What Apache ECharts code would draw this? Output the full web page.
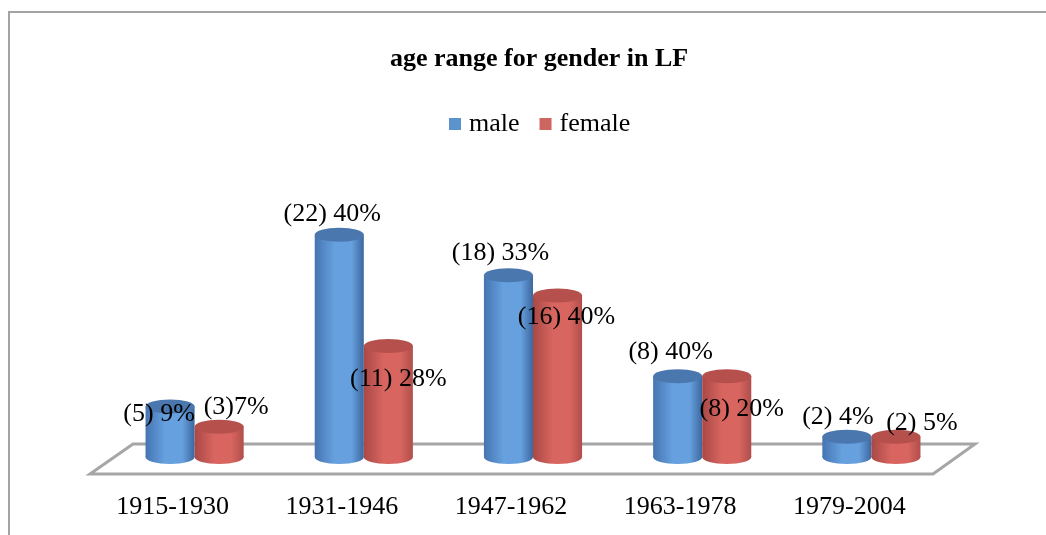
<!DOCTYPE html>
<html>
<head>
    <meta charset="utf-8">
    <title>age range for gender in LF</title>
    <script src="https://cdn.jsdelivr.net/npm/echarts@6/dist/echarts.min.js"></script>
    <style>
        html, body { margin: 0; padding: 0; background: #fff; }
        #chart { width: 1046px; height: 535px; }
    </style>
</head>
<body>
    <div id="chart"></div>
    <script>
    // data
    var categories = ['1915-1930', '1931-1946', '1947-1962', '1963-1978', '1979-2004'];
    var maleCounts = [5, 22, 18, 8, 2];
    var femaleCounts = [3, 11, 16, 8, 2];
    var maleLabels = ['(5) 9%', '(22) 40%', '(18) 33%', '(8) 40%', '(2) 4%'];
    var femaleLabels = ['(3)7%', '(11) 28%', '(16) 40%', '(8) 20%', '(2) 5%'];

    // label nudges (dx from bar centre, dy from top of cap), as placed in the original
    var maleShift = [[-11, 15], [-7, -14], [-8, -15], [-7, -17], [-9, -13]];
    var femaleShift = [[17, -13], [10, 40], [9, 29], [15, 40], [26, -7]];

    var FONT = "'Liberation Serif', 'Times New Roman', serif";
    var GRID_L = 88, GRID_R = 112, GRID_T = 154, GRID_B = 78;
    var DEPTH_X = 22;   // bars sit half way back on the floor
    var RY = 7;         // ellipse half height of the cylinder caps

    var styles = {
        male: { legend: '#5b93cd', edgeL: '#4674b2', mid: '#66a0de', edgeR: '#3c679f', top: '#4a77ae' },
        female: { legend: '#cd6560', edgeL: '#a84846', mid: '#d8655f', edgeR: '#b04e4b', top: '#b5504d' }
    };

    function geom(api, idx, val, side) {
        var base = api.coord([idx, 0]);
        var top = api.coord([idx, val]);
        var band = api.size([1, 0])[0];
        var w = band * 0.29;
        return { cx: base[0] + DEPTH_X + side * w / 2, rx: w / 2, yb: base[1], yt: top[1] };
    }

    function cylinder(st, side) {
        return function (params, api) {
            var g = geom(api, api.value(0), api.value(1), side);
            var body = new echarts.graphic.LinearGradient(0, 0, 1, 0, [
                { offset: 0, color: st.edgeL },
                { offset: 0.4, color: st.mid },
                { offset: 0.75, color: st.mid },
                { offset: 1, color: st.edgeR }
            ]);
            return {
                type: 'group',
                children: [
                    { type: 'ellipse', shape: { cx: g.cx, cy: g.yb, rx: g.rx, ry: RY }, style: { fill: body } },
                    { type: 'rect', shape: { x: g.cx - g.rx, y: g.yt, width: g.rx * 2, height: g.yb - g.yt }, style: { fill: body } },
                    { type: 'ellipse', shape: { cx: g.cx, cy: g.yt, rx: g.rx, ry: RY }, style: { fill: st.top } }
                ]
            };
        };
    }

    function labelText(api, idx, val, side, text, shift) {
        var g = geom(api, idx, val, side);
        return {
            type: 'text',
            style: {
                text: text,
                x: g.cx + shift[0],
                y: g.yt - RY + shift[1],
                align: 'center',
                verticalAlign: 'middle',
                fontFamily: FONT,
                fontSize: 26,
                fill: '#000'
            }
        };
    }

    var chart = echarts.init(document.getElementById('chart'));

    var floorFrontY = 535 - GRID_B + 17, floorBackY = 535 - GRID_B - 13;
    var gridRightX = 1046 - GRID_R;

    chart.setOption({
        animation: false,
        backgroundColor: '#fff',
        title: {
            text: 'age range for gender in LF',
            left: 385,
            top: 41,
            textStyle: { fontFamily: FONT, fontSize: 26, fontWeight: 'bold', color: '#000' }
        },
        legend: {
            top: 106,
            left: 444,
            icon: 'rect',
            itemWidth: 12,
            itemHeight: 12,
            itemGap: 20,
            textStyle: { fontFamily: FONT, fontSize: 26, color: '#000', padding: [0, 0, 0, 3] },
            data: ['male', 'female']
        },
        grid: { left: GRID_L, right: GRID_R, top: GRID_T, bottom: GRID_B },
        xAxis: {
            type: 'category',
            data: categories,
            axisLine: { show: false },
            axisTick: { show: false },
            axisLabel: { fontFamily: FONT, fontSize: 26, color: '#000', margin: 37 }
        },
        yAxis: { type: 'value', min: 0, max: 30, show: false },
        graphic: [
            {
                type: 'polyline',
                z: -1,
                shape: { points: [[9, 535], [9, 12], [1046, 12]] },
                style: { stroke: '#a3a3a3', lineWidth: 2, fill: null }
            },
            {
                type: 'polygon',
                z: -1,
                shape: { points: [
                    [GRID_L + 2, floorFrontY], [GRID_L + 45, floorBackY],
                    [gridRightX + 41, floorBackY], [gridRightX - 1, floorFrontY]
                ] },
                style: { stroke: '#a6a6a6', lineWidth: 3, fill: '#fff' }
            }
        ],
        series: [
            {
                name: 'male',
                type: 'custom',
                z: 2,
                itemStyle: { color: styles.male.legend },
                encode: { x: 0, y: 1 },
                renderItem: cylinder(styles.male, -1),
                data: maleCounts.map(function (v, i) { return [i, v]; })
            },
            {
                name: 'female',
                type: 'custom',
                z: 3,
                itemStyle: { color: styles.female.legend },
                encode: { x: 0, y: 1 },
                renderItem: cylinder(styles.female, 1),
                data: femaleCounts.map(function (v, i) { return [i, v]; })
            },
            {
                name: 'labels',
                type: 'custom',
                z: 10,
                silent: true,
                encode: { x: 0, y: [1, 2] },
                renderItem: function (params, api) {
                    var i = api.value(0);
                    return {
                        type: 'group',
                        children: [
                            labelText(api, i, api.value(1), -1, maleLabels[i], maleShift[i]),
                            labelText(api, i, api.value(2), 1, femaleLabels[i], femaleShift[i])
                        ]
                    };
                },
                data: categories.map(function (c, i) { return [i, maleCounts[i], femaleCounts[i]]; })
            }
        ]
    });
    </script>
</body>
</html>
